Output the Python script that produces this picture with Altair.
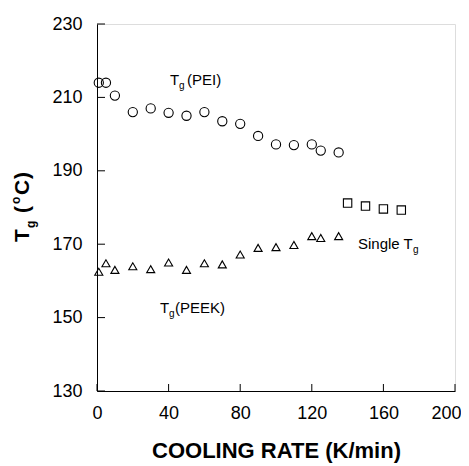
import altair as alt
import pandas as pd

# ---- data ----
rate_pei = [1, 5, 10, 20, 30, 40, 50, 60, 70, 80, 90, 100, 110, 120, 125, 135]
tg_pei = [214, 214, 210.5, 206, 207, 205.8, 205, 206, 203.5, 202.8, 199.5, 197.2, 197, 197.2, 195.5, 195]

rate_peek = [1, 5, 10, 20, 30, 40, 50, 60, 70, 80, 90, 100, 110, 120, 125, 135]
tg_peek = [162.5, 164.8, 163, 164, 163.2, 165, 163, 164.8, 164.5, 167.2, 169, 169.2, 169.8, 172.2, 171.7, 172.2]

rate_single = [140, 150, 160, 170]
tg_single = [181.2, 180.4, 179.6, 179.3]

x_ticks = [0, 40, 80, 120, 160, 200]
y_ticks = [130, 150, 170, 190, 210, 230]

# annotation labels (main text, subscript, trailing text) and anchor in data units
ann_main = ["T", "T", "Single T"]
ann_sub = ["g", "g", "g"]
ann_tail = ["(PEI)", "(PEEK)", ""]
ann_x = [40.8, 35.2, 145.8]
ann_y = [214.7, 152.6, 170.0]
ann_subdx = [9, 9, 55]
ann_taildx = [17, 15, 0]

# y-axis title pieces: text, font size, offset along the text, offset across
ytitle_txt = ["T", "g", "(", "o", "C", ")"]
ytitle_size = [21, 12, 21, 12, 21, 21]
ytitle_dx = [0, 14, 29, 38, 47, 63]
ytitle_dy = [0, 8, 0, -7, 0, 0]

W, H = 358, 367
FONT = "Liberation Sans Narrow, Liberation Sans, Arial, sans-serif"
TFONT = "Liberation Sans, Arial, sans-serif"

pei = pd.DataFrame({"rate": rate_pei, "tg": tg_pei})
peek = pd.DataFrame({"rate": rate_peek, "tg": tg_peek})
single = pd.DataFrame({"rate": rate_single, "tg": tg_single})
ann = pd.DataFrame({"x": ann_x, "y": ann_y, "main": ann_main, "sub": ann_sub, "tail": ann_tail})

xscale = alt.Scale(domain=[0, 200], nice=False, zero=False)
yscale = alt.Scale(domain=[130, 230], nice=False, zero=False)

xaxis = alt.Axis(values=x_ticks, tickSize=0, labelPadding=13, labelFont=FONT, labelFontSize=18,
                 labelColor="black", domainColor="black", grid=False, labelFlush=False,
                 labelAlign={"expr": "datum.value == 200 ? 'right' : 'center'"},
                 labelOffset={"expr": "datum.value == 200 ? 6 : 0"},
                 title="COOLING RATE (K/min)", titleFont=TFONT, titleFontSize=22,
                 titleFontWeight="bold", titleColor="black", titlePadding=18)
yaxis = alt.Axis(values=y_ticks, tickSize=0, labelPadding=15, labelFont=FONT, labelFontSize=18,
                 labelColor="black", domainColor="black", grid=False, labelFlush=False,
                 title=None)

base_x = alt.X("rate:Q", scale=xscale, axis=xaxis)
base_y = alt.Y("tg:Q", scale=yscale, axis=yaxis)

pts_pei = alt.Chart(pei).mark_point(shape="circle", filled=False, color="black", size=85,
                                    strokeWidth=1.1, opacity=1).encode(x=base_x, y=base_y)
pts_peek = alt.Chart(peek).mark_point(shape="triangle-up", filled=False, color="black", size=65,
                                      strokeWidth=1.1, opacity=1).encode(x="rate:Q", y="tg:Q")
pts_single = alt.Chart(single).mark_point(shape="square", filled=False, color="black", size=70,
                                          strokeWidth=1.1, opacity=1).encode(x="rate:Q", y="tg:Q")

xt = pd.DataFrame({"v": x_ticks})
yt = pd.DataFrame({"v": y_ticks})
xtick_rules = alt.Chart(xt).mark_rule(color="black", strokeWidth=1).encode(
    x="v:Q", y=alt.value(H), y2=alt.value(H - 7))
ytick_rules = alt.Chart(yt).mark_rule(color="black", strokeWidth=1).encode(
    y="v:Q", x=alt.value(0), x2=alt.value(8))

t_main = alt.Chart(ann).mark_text(align="left", baseline="middle", font=TFONT, fontSize=15,
                                  color="black").encode(x="x:Q", y="y:Q", text="main:N")
sub_layers = []
for i in range(len(ann_x)):
    row = ann.iloc[[i]]
    sub_layers.append(alt.Chart(row).mark_text(align="left", baseline="middle", font=TFONT,
                                               fontSize=10, color="black", dx=ann_subdx[i], dy=6)
                      .encode(x="x:Q", y="y:Q", text="sub:N"))
    if ann_tail[i]:
        sub_layers.append(alt.Chart(row).mark_text(align="left", baseline="middle", font=TFONT,
                                                   fontSize=15, color="black", dx=ann_taildx[i])
                          .encode(x="x:Q", y="y:Q", text="tail:N"))

# y axis title built from pieces (rotated)
ytitle_df = pd.DataFrame({"a": [0]})
ytitle_layers = []
for t, s, ddx, ddy in zip(ytitle_txt, ytitle_size, ytitle_dx, ytitle_dy):
    ytitle_layers.append(
        alt.Chart(ytitle_df).mark_text(text=t, angle=270, align="left", baseline="middle",
                                       font=TFONT, fontSize=s, fontWeight="bold", color="black",
                                       dx=ddx, dy=ddy)
        .encode(x=alt.value(-74), y=alt.value(218)))

chart = alt.layer(pts_pei, pts_peek, pts_single, xtick_rules, ytick_rules, t_main,
                  *sub_layers, *ytitle_layers).properties(
    width=W, height=H,
    autosize=alt.AutoSizeParams(type="none"),
    padding={"left": 89, "top": 16, "right": 6, "bottom": 75},
).configure_view(stroke="black", strokeWidth=1).configure(background="white")

chart.save("out.html", embed_options={"renderer": "svg", "actions": False})
